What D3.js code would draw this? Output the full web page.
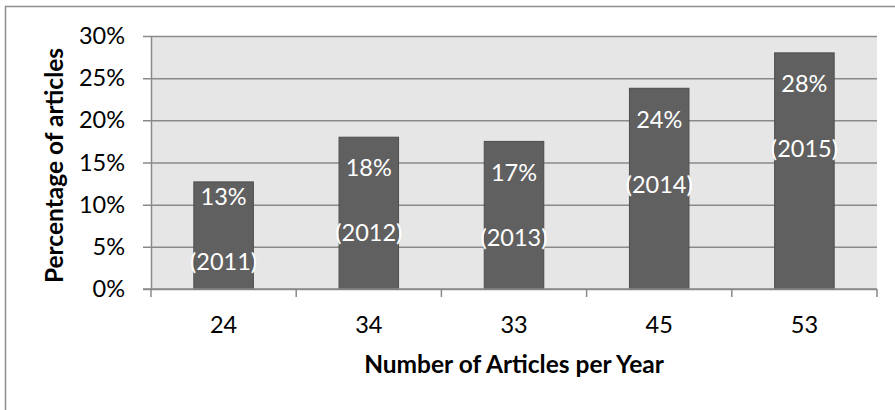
<!DOCTYPE html>
<html><head><meta charset="utf-8">
<script src="https://cdn.jsdelivr.net/npm/d3@7/dist/d3.min.js"></script>
<style>html,body{margin:0;padding:0;background:#fff;}svg{display:block;font-family:Lato,"Open Sans",sans-serif;}</style>
</head><body>
<script>
const categories = ["24", "34", "33", "45", "53"];
const years = ["2011", "2012", "2013", "2014", "2015"];
const values = [12.7, 18.0, 17.5, 23.8, 28.0];
const pctLabels = ["13%", "18%", "17%", "24%", "28%"];
const yTicks = [0, 5, 10, 15, 20, 25, 30];

const W = 895, H = 410;
const FS = 23.5, FSB = 24.5;
const m = {left: 151, right: 877, top: 36, bottom: 289};
const svg = d3.select("body").append("svg").attr("width", W).attr("height", H);

// outer border
svg.append("rect").attr("x", 5.5).attr("y", 6.5).attr("width", 1000).attr("height", 1000)
  .attr("fill", "none").attr("stroke", "#8e8e8e").attr("stroke-width", 1.5);

const x = d3.scaleBand().domain(categories.map((c,i)=>i)).range([m.left, m.right]).paddingInner(0.59).paddingOuter(0.295);
const xb = d3.scaleBand().domain(categories.map((c,i)=>i)).range([m.left, m.right]);
const y = d3.scaleLinear().domain([0, 30]).range([m.bottom, m.top]);

svg.append("rect").attr("x", m.left).attr("y", m.top).attr("width", m.right - m.left).attr("height", m.bottom - m.top).attr("fill", "#e6e6e6");

// grid + y axis
const yAxis = d3.axisLeft(y).tickValues(yTicks).tickFormat(d => d + "%").tickSizeInner(-(m.right - m.left)).tickSizeOuter(0).tickPadding(26);
const gy = svg.append("g").attr("transform", `translate(${m.left},0)`).call(yAxis);
gy.select(".domain").attr("stroke", "#8a8a8a").attr("stroke-width", 1.5);
gy.selectAll(".tick line").attr("stroke", "#8a8a8a").attr("stroke-width", 1.5).attr("x1", -8);
gy.selectAll(".tick text").attr("font-size", FS).attr("fill", "#000").attr("font-family", "Lato");

// bars
svg.selectAll("rect.bar").data(values).enter().append("rect").attr("class", "bar")
  .attr("x", (d,i) => x(i)).attr("width", x.bandwidth())
  .attr("y", d => y(d)).attr("height", d => y(0) - y(d))
  .attr("fill", "#606060").attr("stroke", "#4d4d4d").attr("stroke-width", 1);

// x axis
const xAxis = d3.axisBottom(xb).tickFormat(i => categories[i]).tickSize(0).tickPadding(27);
const gx = svg.append("g").attr("transform", `translate(0,${m.bottom})`).call(xAxis);
gx.select(".domain").remove();
gx.selectAll(".tick text").attr("font-size", FS).attr("fill", "#000").attr("font-family", "Lato");
svg.append("line").attr("x1", m.left - 8).attr("x2", m.right).attr("y1", m.bottom).attr("y2", m.bottom).attr("stroke", "#8a8a8a").attr("stroke-width", 1.5);
svg.selectAll("line.xtick").data(d3.range(categories.length + 1)).enter().append("line")
  .attr("x1", i => m.left + i * xb.step()).attr("x2", i => m.left + i * xb.step())
  .attr("y1", m.bottom).attr("y2", m.bottom + 8).attr("stroke", "#8a8a8a").attr("stroke-width", 1.5);

// labels
const pctY = (d) => Math.min(y(d) + 31, y(0) - 92);
svg.selectAll("text.pct").data(values).enter().append("text")
  .attr("x", (d,i) => x(i) + x.bandwidth()/2).attr("y", d => pctY(d)).attr("dy", "0.35em")
  .attr("text-anchor", "middle").attr("fill", "#fff").attr("font-size", FS)
  .text((d,i) => pctLabels[i]);
svg.selectAll("text.yr").data(values).enter().append("text")
  .attr("x", (d,i) => x(i) + x.bandwidth()/2).attr("y", d => pctY(d) + 65).attr("dy", "0.35em")
  .attr("text-anchor", "middle").attr("fill", "#fff").attr("font-size", FS)
  .text((d,i) => "(" + years[i] + ")");

// axis titles
svg.append("text").attr("x", (m.left + m.right)/2 + 0).attr("y", 364).attr("dy", "0.35em")
  .attr("text-anchor", "middle").attr("font-weight", "bold").attr("font-size", FSB).text("Number of Articles per Year");
svg.append("text").attr("transform", `translate(54,${(m.top + m.bottom)/2 + 3}) rotate(-90)`).attr("dy", "0.35em")
  .attr("text-anchor", "middle").attr("font-weight", "bold").attr("font-size", FSB).text("Percentage of articles");
</script>
</body></html>
